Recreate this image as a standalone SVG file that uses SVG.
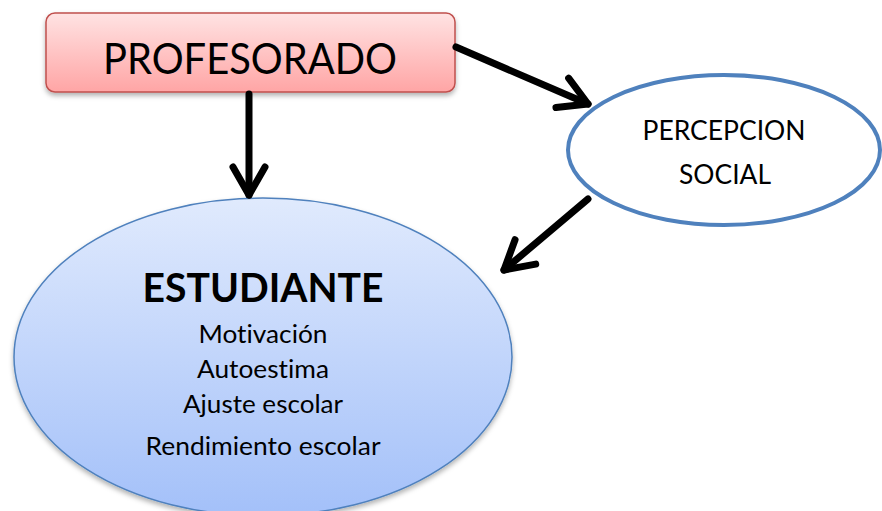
<svg xmlns="http://www.w3.org/2000/svg" width="882" height="511" viewBox="0 0 882 511">
<style>
text{font-family:Lato,"Open Sans","Liberation Sans",sans-serif;fill:#000;text-anchor:middle;font-variant-ligatures:none}
.conn{stroke:#000;stroke-width:7;fill:none;stroke-linecap:round;stroke-linejoin:round}
</style>
<defs>
<linearGradient id="gRed" x1="0" y1="0" x2="0" y2="1">
<stop offset="0" stop-color="#ffe3e3"/><stop offset="1" stop-color="#ffa5a5"/>
</linearGradient>
<linearGradient id="gBlue" x1="0" y1="0" x2="0" y2="1">
<stop offset="0" stop-color="#e0eafd"/><stop offset="1" stop-color="#a3c0f9"/>
</linearGradient>
<filter id="sh" x="-10%" y="-10%" width="120%" height="130%">
<feDropShadow dx="0" dy="3" stdDeviation="2.5" flood-color="#000" flood-opacity="0.3"/>
</filter>
<marker id="arr" markerUnits="userSpaceOnUse" markerWidth="60" markerHeight="60" viewBox="-40 -30 60 60" refX="0" refY="0" orient="auto" overflow="visible">
<path d="M-28,-16 L0,0 L-28,16" stroke="#000" stroke-width="7" fill="none" stroke-linecap="round" stroke-linejoin="round"/>
</marker>
</defs>
<rect width="882" height="511" fill="#fff"/>
<g id="estudiante">
<ellipse cx="263" cy="357" rx="249" ry="159" fill="url(#gBlue)" stroke="#4f81bd" stroke-width="1.5" filter="url(#sh)"/>
<text x="263" y="302" font-size="40" font-weight="bold" textLength="241" lengthAdjust="spacingAndGlyphs">ESTUDIANTE</text>
<text x="263" y="343" font-size="24.5" textLength="129" lengthAdjust="spacingAndGlyphs">Motivación</text>
<text x="263" y="378" font-size="24.5" textLength="132" lengthAdjust="spacingAndGlyphs">Autoestima</text>
<text x="263" y="413" font-size="24.5" textLength="160" lengthAdjust="spacingAndGlyphs">Ajuste escolar</text>
<text x="263" y="455" font-size="24.5" textLength="235" lengthAdjust="spacingAndGlyphs">Rendimiento escolar</text>
</g>
<g id="profesorado">
<rect x="46" y="13" width="409" height="79" rx="9" fill="url(#gRed)" stroke="#c0504d" stroke-width="1.5" filter="url(#sh)"/>
<text x="250" y="74" font-size="43" textLength="294" lengthAdjust="spacingAndGlyphs">PROFESORADO</text>
</g>
<g id="percepcion">
<ellipse cx="724" cy="150" rx="156" ry="75" fill="#fff" stroke="#4f81bd" stroke-width="4"/>
<text x="724" y="140" font-size="27" textLength="163" lengthAdjust="spacingAndGlyphs">PERCEPCION</text>
<text x="725" y="184" font-size="27" textLength="92" lengthAdjust="spacingAndGlyphs">SOCIAL</text>
</g>
<g id="connectors">
<path class="conn" d="M249,94 L249,195" marker-end="url(#arr)"/>
<path class="conn" d="M456,47 L588,104" marker-end="url(#arr)"/>
<path class="conn" d="M588,199 L504,270" marker-end="url(#arr)"/>
</g>
</svg>
